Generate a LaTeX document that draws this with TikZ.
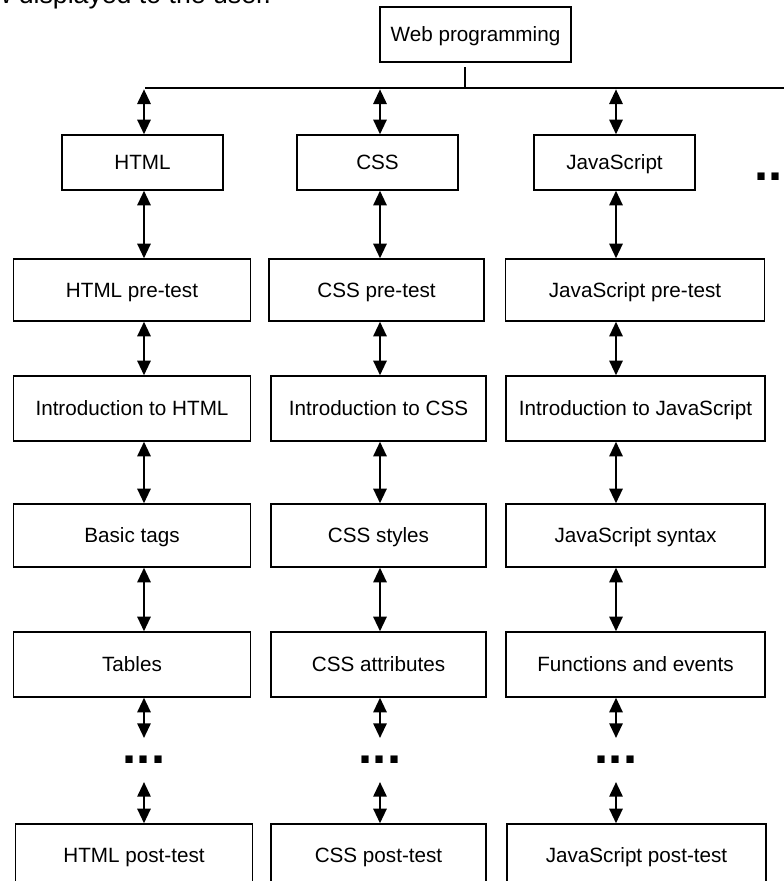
\documentclass[tikz,border=0pt]{standalone}
\usepackage{fontspec}
\setmainfont{Liberation Sans}
\usetikzlibrary{arrows.meta}
\begin{document}
\begin{tikzpicture}[>={Triangle[length=11pt,width=10pt]}, x=0.75pt, y=-0.75pt,
  topic/.style={draw, line width=1.1pt, inner sep=0pt, text height=11pt, text depth=0pt, font=\fontsize{15.5}{18}\selectfont},
  htmlcol/.style={topic, minimum width=178pt},
  csscol/.style={topic, minimum width=161.25pt},
  jscol/.style={topic, minimum width=194.25pt},
  link/.style={<->, line width=1.5pt},
  more/.style={inner xsep=0pt, inner ysep=13.5pt, font=\fontsize{38}{38}\selectfont\bfseries}]
  \useasboundingbox (0,0) rectangle (784,881);
  % Texte coupe en haut de la page
  \node[anchor=base west, inner sep=0pt, font=\fontsize{20}{24}\selectfont] (caption) at (-8,4) {w displayed to the user.};
  % Racine et barre horizontale
  \node[topic, minimum width=143.25pt, minimum height=41.25pt] (web) at (475.5,34.5) {Web programming};
  \coordinate (busL) at (145,88);
  \coordinate (busR) at (790,88);
  \coordinate (join) at (465,88);
  \draw[line width=1.5pt] (busL) -- (busR);
  \draw[line width=1.1pt, shorten >=3.5pt] (join) -- (join |- web.south);
  % Colonnes des fleches
  \coordinate (colH) at (144,0);
  \coordinate (colC) at (380,0);
  \coordinate (colJ) at (616,0);
  % Langages
  \node[topic, minimum width=120.75pt, minimum height=41.25pt] (html) at (142.5,162.5) {HTML};
  \node[topic, minimum width=120.75pt, minimum height=41.25pt] (css) at (377.5,162.5) {CSS};
  \node[topic, minimum width=120.75pt, minimum height=41.25pt] (js) at (614.5,162.5) {JavaScript};
  \node[more, anchor=west] (rdots) at (754,177) {...};
  % Colonne HTML
  \node[htmlcol, minimum height=46.5pt] (htmlpre) at (132,290) {HTML pre-test};
  \node[htmlcol, minimum height=48.75pt] (htmlintro) at (132,408.5) {Introduction to HTML};
  \node[htmlcol, minimum height=47.25pt] (tags) at (132,535.5) {Basic tags};
  \node[htmlcol, minimum height=48.75pt] (tables) at (132,664.5) {Tables};
  \node[more] (hdots) at (144,760) {...};
  \node[htmlcol, minimum height=46.5pt] (htmlpost) at (134,855) {HTML post-test};
  % Colonne CSS
  \node[csscol, minimum height=46.5pt] (csspre) at (376.5,290) {CSS pre-test};
  \node[csscol, minimum height=48.75pt] (cssintro) at (378.5,408.5) {Introduction to CSS};
  \node[csscol, minimum height=47.25pt] (styles) at (378.5,535.5) {CSS styles};
  \node[csscol, minimum height=48.75pt] (attrs) at (378.5,664.5) {CSS attributes};
  \node[more] (cdots) at (380,760) {...};
  \node[csscol, minimum height=46.5pt] (csspost) at (378.5,855) {CSS post-test};
  % Colonne JavaScript
  \node[jscol, minimum height=46.5pt] (jspre) at (635,290) {JavaScript pre-test};
  \node[jscol, minimum height=48.75pt] (jsintro) at (635.5,408.5) {Introduction to JavaScript};
  \node[jscol, minimum height=47.25pt] (syntax) at (635.5,535.5) {JavaScript syntax};
  \node[jscol, minimum height=48.75pt] (events) at (635.5,664.5) {Functions and events};
  \node[more] (jdots) at (616,760) {...};
  \node[jscol, minimum height=46.5pt] (jspost) at (636.5,855) {JavaScript post-test};
  % Fleches de la barre vers les langages
  \draw[link, shorten <=1pt] (colH |- busL) -- (colH |- html.north);
  \draw[link, shorten <=1pt] (colC |- busL) -- (colC |- css.north);
  \draw[link, shorten <=1pt] (colJ |- busL) -- (colJ |- js.north);
  % Fleches dans les colonnes
  \draw[link] (colH |- html.south) -- (colH |- htmlpre.north);
  \draw[link] (colH |- htmlpre.south) -- (colH |- htmlintro.north);
  \draw[link] (colH |- htmlintro.south) -- (colH |- tags.north);
  \draw[link] (colH |- tags.south) -- (colH |- tables.north);
  \draw[link] (colH |- tables.south) -- (hdots.north);
  \draw[link] (hdots.south) -- (colH |- htmlpost.north);
  \draw[link] (colC |- css.south) -- (colC |- csspre.north);
  \draw[link] (colC |- csspre.south) -- (colC |- cssintro.north);
  \draw[link] (colC |- cssintro.south) -- (colC |- styles.north);
  \draw[link] (colC |- styles.south) -- (colC |- attrs.north);
  \draw[link] (colC |- attrs.south) -- (cdots.north);
  \draw[link] (cdots.south) -- (colC |- csspost.north);
  \draw[link] (colJ |- js.south) -- (colJ |- jspre.north);
  \draw[link] (colJ |- jspre.south) -- (colJ |- jsintro.north);
  \draw[link] (colJ |- jsintro.south) -- (colJ |- syntax.north);
  \draw[link] (colJ |- syntax.south) -- (colJ |- events.north);
  \draw[link] (colJ |- events.south) -- (jdots.north);
  \draw[link] (jdots.south) -- (colJ |- jspost.north);
\end{tikzpicture}
\end{document}
